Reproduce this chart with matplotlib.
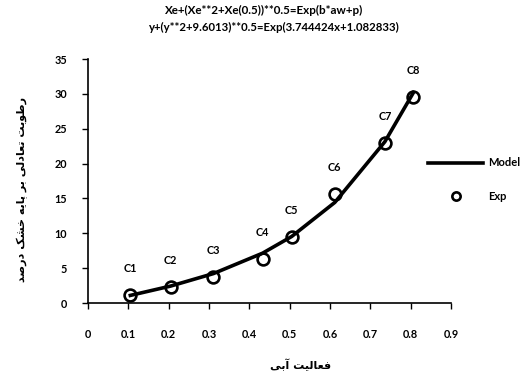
import matplotlib
matplotlib.use("Agg")
import matplotlib.pyplot as plt

# data
aw = [0.105, 0.205, 0.311, 0.433, 0.505, 0.612, 0.736, 0.807]
exp_vals = [1.1, 2.25, 3.8, 6.3, 9.5, 15.6, 22.9, 29.6]
model_vals = [1.09, 2.43, 4.22, 7.15, 9.54, 14.43, 23.13, 30.2]
point_labels = ["C1", "C2", "C3", "C4", "C5", "C6", "C7", "C8"]
x_ticks = [0, 0.1, 0.2, 0.3, 0.4, 0.5, 0.6, 0.7, 0.8, 0.9]
y_ticks = [0, 5, 10, 15, 20, 25, 30, 35]

title_1 = "Xe+(Xe**2+Xe(0.5))**0.5=Exp(b*aw+p)"
title_2 = "y+(y**2+9.6013)**0.5=Exp(3.744424x+1.082833)"
xlabel_fa = "فعالیت آبی"
ylabel_fa = "رطوبت تعادلی بر پایه خشک درصد"

# minimal Persian shaping (isolated, final, initial, medial)
FORMS = {
    "ا": ("\uFE8D", "\uFE8E", None, None),
    "آ": ("\uFE81", "\uFE82", None, None),
    "ب": ("\uFE8F", "\uFE90", "\uFE91", "\uFE92"),
    "ت": ("\uFE95", "\uFE96", "\uFE97", "\uFE98"),
    "پ": ("\uFB56", "\uFB57", "\uFB58", "\uFB59"),
    "خ": ("\uFEA5", "\uFEA6", "\uFEA7", "\uFEA8"),
    "د": ("\uFEA9", "\uFEAA", None, None),
    "ر": ("\uFEAD", "\uFEAE", None, None),
    "ش": ("\uFEB5", "\uFEB6", "\uFEB7", "\uFEB8"),
    "ص": ("\uFEB9", "\uFEBA", "\uFEBB", "\uFEBC"),
    "ط": ("\uFEC1", "\uFEC2", "\uFEC3", "\uFEC4"),
    "ع": ("\uFEC9", "\uFECA", "\uFECB", "\uFECC"),
    "ف": ("\uFED1", "\uFED2", "\uFED3", "\uFED4"),
    "ک": ("\uFB8E", "\uFB8F", "\uFB90", "\uFB91"),
    "ل": ("\uFEDD", "\uFEDE", "\uFEDF", "\uFEE0"),
    "ه": ("\uFEE9", "\uFEEA", "\uFEEB", "\uFEEC"),
    "و": ("\uFEED", "\uFEEE", None, None),
    "ی": ("\uFBFC", "\uFBFD", "\uFBFE", "\uFBFF"),
}


def shape(text):
    out = []
    for i, ch in enumerate(text):
        if ch not in FORMS:
            out.append(ch)
            continue
        prev = text[i - 1] if i > 0 else ""
        nxt = text[i + 1] if i + 1 < len(text) else ""
        join_prev = prev in FORMS and FORMS[prev][2] is not None
        join_next = nxt in FORMS and FORMS[ch][2] is not None
        iso, fin, ini, med = FORMS[ch]
        if join_prev and join_next:
            out.append(med)
        elif join_prev:
            out.append(fin)
        elif join_next:
            out.append(ini)
        else:
            out.append(iso)
    return "".join(out)[::-1]


plt.rcParams["font.family"] = ["Lato", "DejaVu Sans"]
plt.rcParams["font.weight"] = "bold"

fig = plt.figure(figsize=(5.25, 3.78), dpi=100)
ax = fig.add_axes([0.1676, 0.1984, 0.6914, 0.6455])

ax.plot(aw, model_vals, color="black", lw=2.6, label="Model", zorder=2)
ax.plot(aw, exp_vals, linestyle="none", marker="o", markersize=8.5,
        markerfacecolor="none", markeredgecolor="black", markeredgewidth=1.9,
        label="Exp", zorder=3)

for x, y, lab in zip(aw, exp_vals, point_labels):
    ax.annotate(lab, (x, y), xytext=(0, 19), textcoords="offset points",
                ha="center", va="center", fontsize=7.8, fontweight="bold")

ax.set_xlim(0, 0.9)
ax.set_ylim(0, 35)
ax.set_xticks(x_ticks)
ax.set_xticklabels([str(t) for t in x_ticks])
ax.set_yticks(y_ticks)
ax.tick_params(axis="x", direction="out", length=4, width=1, pad=15, labelsize=7.8)
ax.tick_params(axis="y", direction="out", length=4, width=1, pad=11, labelsize=7.8)
for s in ["top", "right"]:
    ax.spines[s].set_visible(False)
for s in ["left", "bottom"]:
    ax.spines[s].set_linewidth(1.2)

fig.text(0.503, 0.972, title_1, ha="center", va="center", fontsize=8.4, fontweight="bold")
fig.text(0.522, 0.926, title_2, ha="center", va="center", fontsize=8.2, fontweight="bold")

fig.text(0.042, 0.50, shape(ylabel_fa), rotation=90, ha="center", va="center",
         fontsize=8, fontweight="bold", family=["DejaVu Sans"])
fig.text(0.572, 0.034, shape(xlabel_fa), ha="center", va="center",
         fontsize=8, fontweight="bold", family=["DejaVu Sans"])

ax.legend(loc="center left", bbox_to_anchor=(0.797, 0.525),
          bbox_transform=fig.transFigure, frameon=False, fontsize=8,
          handlelength=4.9, labelspacing=2.0, handletextpad=0.5,
          markerscale=0.7)

fig.savefig("out.png", dpi=100)
